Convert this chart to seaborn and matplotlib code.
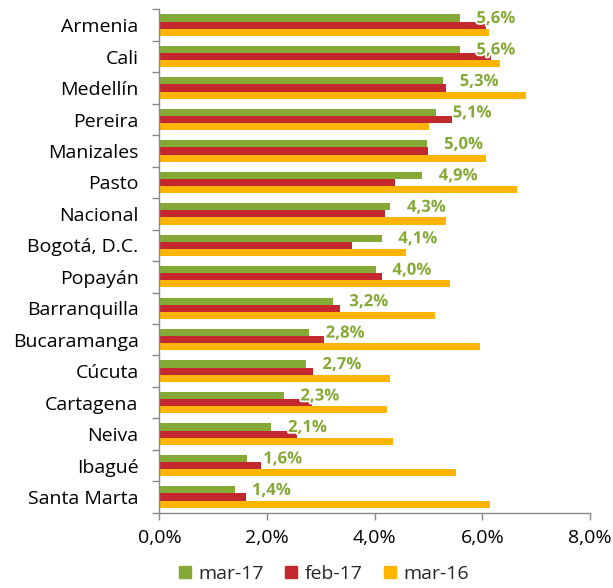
import pandas as pd
import matplotlib
matplotlib.use('Agg')
import matplotlib.pyplot as plt
import matplotlib.patheffects as pe
from matplotlib.ticker import FuncFormatter, FixedLocator
import seaborn as sns

# Data (percent)
ciudades = ['Armenia', 'Cali', 'Medellín', 'Pereira', 'Manizales', 'Pasto',
            'Nacional', 'Bogotá, D.C.', 'Popayán', 'Barranquilla', 'Bucaramanga',
            'Cúcuta', 'Cartagena', 'Neiva', 'Ibagué', 'Santa Marta']
mar_17 = [5.58, 5.58, 5.27, 5.14, 4.98, 4.88, 4.29, 4.13, 4.02, 3.22, 2.78,
          2.72, 2.31, 2.08, 1.62, 1.41]
feb_17 = [6.07, 6.16, 5.33, 5.44, 4.99, 4.38, 4.19, 3.58, 4.14, 3.36, 3.05,
          2.85, 2.83, 2.56, 1.89, 1.60]
mar_16 = [6.12, 6.33, 6.82, 5.00, 6.06, 6.65, 5.33, 4.58, 5.40, 5.12, 5.95,
          4.28, 4.22, 4.34, 5.51, 6.14]
series = ['mar-17', 'feb-17', 'mar-16']
colores = ['#85A935', '#C3282E', '#FFB400']

df = pd.DataFrame({'ciudad': ciudades, 'mar-17': mar_17,
                   'feb-17': feb_17, 'mar-16': mar_16})
df_long = df.melt(id_vars='ciudad', var_name='periodo', value_name='valor')

sns.set_style('white')
plt.rcParams['font.family'] = ['Open Sans', 'DejaVu Sans']

fig = plt.figure(figsize=(6.13, 5.88), dpi=100)
ax = fig.add_axes([0.260, 0.128, 0.7025, 0.856])

sns.barplot(data=df_long, y='ciudad', x='valor', hue='periodo',
            order=ciudades, hue_order=series, palette=colores, saturation=1,
            width=0.68, orient='h', linewidth=0, ax=ax)

ax.set_xlim(0, 8)
ax.set_ylim(len(ciudades) - 0.5, -0.5)
ax.set_xlabel('')
ax.set_ylabel('')
ax.set_xticks([0, 2, 4, 6, 8])
ax.xaxis.set_major_formatter(FuncFormatter(lambda v, p: f'{v:.1f}%'.replace('.', ',')))

# Excel-style ticks at category boundaries
ax.yaxis.set_minor_locator(FixedLocator([i - 0.5 for i in range(len(ciudades) + 1)]))
ax.tick_params(axis='y', which='major', length=0, labelsize=14, pad=15, colors='black')
ax.tick_params(axis='y', which='minor', length=5, width=1, color='#888888', left=True)
ax.tick_params(axis='x', length=5, width=1, color='#888888', labelsize=14, pad=7,
               bottom=True, labelcolor='black')

for side in ['top', 'right']:
    ax.spines[side].set_visible(False)
for side in ['left', 'bottom']:
    ax.spines[side].set_color('#888888')
    ax.spines[side].set_linewidth(1)

# Labels for mar-17
for bar, v in zip(ax.containers[0], mar_17):
    y = bar.get_y() + bar.get_height() / 2
    ax.annotate(f'{v:.1f}%'.replace('.', ','), xy=(v, y), xytext=(12, 0),
                textcoords='offset points', va='center', ha='left',
                fontsize=12, fontweight='bold', color='#85A935',
                path_effects=[pe.withStroke(linewidth=2.5, foreground='white')])

ax.get_legend().remove()
handles = [plt.Rectangle((0, 0), 1, 1, color=c) for c in colores]
fig.legend(handles, series, loc='center', bbox_to_anchor=(324 / 613, 1 - 574 / 588),
           ncol=3, frameon=False, fontsize=14, handlelength=0.6, handleheight=0.6,
           handletextpad=0.4, columnspacing=1.1)

plt.savefig('out.png', dpi=100)
